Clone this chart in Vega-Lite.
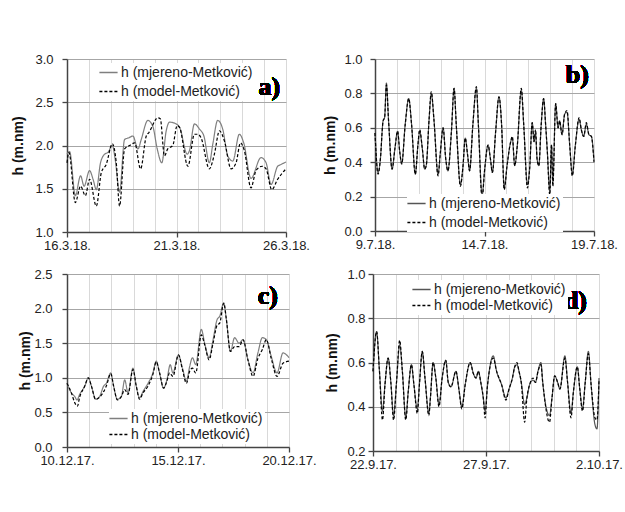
{
  "$schema": "https://vega.github.io/schema/vega-lite/v6.json",
  "padding": {"left": 11, "top": 53, "right": 0, "bottom": 0},
  "background": "white",
  "config": {
    "view": {"stroke": null},
    "font": "Liberation Sans",
    "axis": {"labelFont": "Liberation Sans", "labelFontSize": 13, "labelColor": "#222", "titleFont": "Liberation Sans", "titleFontSize": 14, "titleFontWeight": "bold", "titleColor": "#111", "domainColor": "#444", "domainWidth": 1.5, "tickColor": "#444", "tickSize": 5, "tickWidth": 1.3, "gridWidth": 1, "tickCount": 20, "labelOverlap": false},
    "axisX": {"gridColor": "#d9d9d9", "labelFlush": false, "labelPadding": 2},
    "axisY": {"gridColor": "#a6a6a6"},
    "legend": {"title": null, "fillColor": "white", "padding": 2, "symbolType": "M-1.4,0H1.4", "symbolSize": 169, "symbolStrokeWidth": 1.3, "labelFontSize": 14, "labelFont": "Liberation Sans", "labelColor": "#222", "labelOffset": 5, "labelLimit": 300}
  },
  "datasets": {
    "a": [
      {"dan":0.00,"s":"mjereno","h":1.90},{"dan":0.12,"s":"mjereno","h":1.93},{"dan":0.38,"s":"mjereno","h":1.42},{"dan":0.62,"s":"mjereno","h":1.65},{"dan":0.78,"s":"mjereno","h":1.53},{"dan":1.03,"s":"mjereno","h":1.71},{"dan":1.19,"s":"mjereno","h":1.61},{"dan":1.34,"s":"mjereno","h":1.49},{"dan":1.53,"s":"mjereno","h":1.80},{"dan":1.72,"s":"mjereno","h":1.90},{"dan":1.87,"s":"mjereno","h":1.92},{"dan":2.07,"s":"mjereno","h":2.00},{"dan":2.20,"s":"mjereno","h":1.84},{"dan":2.40,"s":"mjereno","h":1.46},{"dan":2.63,"s":"mjereno","h":2.07},{"dan":2.83,"s":"mjereno","h":2.09},{"dan":3.01,"s":"mjereno","h":2.11},{"dan":3.24,"s":"mjereno","h":1.96},{"dan":3.39,"s":"mjereno","h":2.07},{"dan":3.69,"s":"mjereno","h":2.29},{"dan":3.92,"s":"mjereno","h":2.22},{"dan":4.12,"s":"mjereno","h":1.96},{"dan":4.33,"s":"mjereno","h":1.80},{"dan":4.53,"s":"mjereno","h":2.17},{"dan":4.68,"s":"mjereno","h":2.27},{"dan":4.98,"s":"mjereno","h":2.25},{"dan":5.14,"s":"mjereno","h":2.21},{"dan":5.49,"s":"mjereno","h":1.90},{"dan":5.59,"s":"mjereno","h":1.94},{"dan":5.82,"s":"mjereno","h":2.25},{"dan":6.05,"s":"mjereno","h":2.19},{"dan":6.25,"s":"mjereno","h":2.11},{"dan":6.50,"s":"mjereno","h":1.80},{"dan":6.66,"s":"mjereno","h":2.02},{"dan":6.88,"s":"mjereno","h":2.29},{"dan":7.11,"s":"mjereno","h":2.19},{"dan":7.34,"s":"mjereno","h":1.88},{"dan":7.57,"s":"mjereno","h":1.82},{"dan":7.87,"s":"mjereno","h":2.13},{"dan":8.07,"s":"mjereno","h":2.03},{"dan":8.40,"s":"mjereno","h":1.62},{"dan":8.86,"s":"mjereno","h":1.86},{"dan":9.09,"s":"mjereno","h":1.80},{"dan":9.32,"s":"mjereno","h":1.55},{"dan":9.62,"s":"mjereno","h":1.76},{"dan":9.77,"s":"mjereno","h":1.78},{"dan":10.0,"s":"mjereno","h":1.81},
      {"dan":0.00,"s":"model","h":1.80},{"dan":0.09,"s":"model","h":1.92},{"dan":0.38,"s":"model","h":1.34},{"dan":0.62,"s":"model","h":1.53},{"dan":0.84,"s":"model","h":1.42},{"dan":1.03,"s":"model","h":1.61},{"dan":1.34,"s":"model","h":1.30},{"dan":1.57,"s":"model","h":1.69},{"dan":1.79,"s":"model","h":1.78},{"dan":2.07,"s":"model","h":2.02},{"dan":2.25,"s":"model","h":1.80},{"dan":2.40,"s":"model","h":1.30},{"dan":2.63,"s":"model","h":1.96},{"dan":2.86,"s":"model","h":2.00},{"dan":3.09,"s":"model","h":2.03},{"dan":3.36,"s":"model","h":1.73},{"dan":3.62,"s":"model","h":2.11},{"dan":3.74,"s":"model","h":2.15},{"dan":4.15,"s":"model","h":2.32},{"dan":4.26,"s":"model","h":2.31},{"dan":4.45,"s":"model","h":1.88},{"dan":4.60,"s":"model","h":1.96},{"dan":4.83,"s":"model","h":2.00},{"dan":5.03,"s":"model","h":2.23},{"dan":5.14,"s":"model","h":2.21},{"dan":5.52,"s":"model","h":1.76},{"dan":5.82,"s":"model","h":2.13},{"dan":5.97,"s":"model","h":2.13},{"dan":6.12,"s":"model","h":2.09},{"dan":6.50,"s":"model","h":1.73},{"dan":6.73,"s":"model","h":1.90},{"dan":6.96,"s":"model","h":2.17},{"dan":7.19,"s":"model","h":2.05},{"dan":7.49,"s":"model","h":1.73},{"dan":7.72,"s":"model","h":1.80},{"dan":7.92,"s":"model","h":2.03},{"dan":8.10,"s":"model","h":1.94},{"dan":8.40,"s":"model","h":1.51},{"dan":8.63,"s":"model","h":1.71},{"dan":8.91,"s":"model","h":1.76},{"dan":9.09,"s":"model","h":1.73},{"dan":9.35,"s":"model","h":1.49},{"dan":9.62,"s":"model","h":1.61},{"dan":10.0,"s":"model","h":1.73}
    ],
    "b": [
      {"dan":0.00,"s":"mjereno","h":0.57},{"dan":0.14,"s":"mjereno","h":0.34},{"dan":0.24,"s":"mjereno","h":0.41},{"dan":0.37,"s":"mjereno","h":0.64},{"dan":0.44,"s":"mjereno","h":0.66},{"dan":0.52,"s":"mjereno","h":0.86},{"dan":0.62,"s":"mjereno","h":0.64},{"dan":0.78,"s":"mjereno","h":0.36},{"dan":0.91,"s":"mjereno","h":0.48},{"dan":1.03,"s":"mjereno","h":0.58},{"dan":1.13,"s":"mjereno","h":0.46},{"dan":1.22,"s":"mjereno","h":0.39},{"dan":1.38,"s":"mjereno","h":0.62},{"dan":1.54,"s":"mjereno","h":0.77},{"dan":1.67,"s":"mjereno","h":0.62},{"dan":1.84,"s":"mjereno","h":0.33},{"dan":1.96,"s":"mjereno","h":0.50},{"dan":2.04,"s":"mjereno","h":0.58},{"dan":2.16,"s":"mjereno","h":0.48},{"dan":2.27,"s":"mjereno","h":0.36},{"dan":2.34,"s":"mjereno","h":0.38},{"dan":2.47,"s":"mjereno","h":0.65},{"dan":2.57,"s":"mjereno","h":0.80},{"dan":2.69,"s":"mjereno","h":0.65},{"dan":2.88,"s":"mjereno","h":0.33},{"dan":2.98,"s":"mjereno","h":0.45},{"dan":3.11,"s":"mjereno","h":0.60},{"dan":3.23,"s":"mjereno","h":0.42},{"dan":3.33,"s":"mjereno","h":0.35},{"dan":3.49,"s":"mjereno","h":0.58},{"dan":3.61,"s":"mjereno","h":0.83},{"dan":3.71,"s":"mjereno","h":0.62},{"dan":3.90,"s":"mjereno","h":0.27},{"dan":4.02,"s":"mjereno","h":0.38},{"dan":4.12,"s":"mjereno","h":0.54},{"dan":4.23,"s":"mjereno","h":0.44},{"dan":4.32,"s":"mjereno","h":0.35},{"dan":4.47,"s":"mjereno","h":0.62},{"dan":4.63,"s":"mjereno","h":0.83},{"dan":4.72,"s":"mjereno","h":0.62},{"dan":4.89,"s":"mjereno","h":0.21},{"dan":5.01,"s":"mjereno","h":0.36},{"dan":5.16,"s":"mjereno","h":0.50},{"dan":5.27,"s":"mjereno","h":0.42},{"dan":5.36,"s":"mjereno","h":0.34},{"dan":5.51,"s":"mjereno","h":0.58},{"dan":5.66,"s":"mjereno","h":0.78},{"dan":5.78,"s":"mjereno","h":0.62},{"dan":5.90,"s":"mjereno","h":0.25},{"dan":6.03,"s":"mjereno","h":0.38},{"dan":6.18,"s":"mjereno","h":0.51},{"dan":6.27,"s":"mjereno","h":0.54},{"dan":6.38,"s":"mjereno","h":0.38},{"dan":6.50,"s":"mjereno","h":0.50},{"dan":6.68,"s":"mjereno","h":0.82},{"dan":6.79,"s":"mjereno","h":0.62},{"dan":6.96,"s":"mjereno","h":0.27},{"dan":7.06,"s":"mjereno","h":0.36},{"dan":7.18,"s":"mjereno","h":0.63},{"dan":7.26,"s":"mjereno","h":0.52},{"dan":7.33,"s":"mjereno","h":0.57},{"dan":7.40,"s":"mjereno","h":0.42},{"dan":7.48,"s":"mjereno","h":0.38},{"dan":7.59,"s":"mjereno","h":0.62},{"dan":7.70,"s":"mjereno","h":0.77},{"dan":7.79,"s":"mjereno","h":0.62},{"dan":7.87,"s":"mjereno","h":0.46},{"dan":7.98,"s":"mjereno","h":0.23},{"dan":8.06,"s":"mjereno","h":0.50},{"dan":8.12,"s":"mjereno","h":0.28},{"dan":8.25,"s":"mjereno","h":0.74},{"dan":8.36,"s":"mjereno","h":0.60},{"dan":8.43,"s":"mjereno","h":0.64},{"dan":8.54,"s":"mjereno","h":0.56},{"dan":8.66,"s":"mjereno","h":0.68},{"dan":8.77,"s":"mjereno","h":0.69},{"dan":8.89,"s":"mjereno","h":0.50},{"dan":9.01,"s":"mjereno","h":0.33},{"dan":9.15,"s":"mjereno","h":0.50},{"dan":9.32,"s":"mjereno","h":0.65},{"dan":9.42,"s":"mjereno","h":0.59},{"dan":9.53,"s":"mjereno","h":0.55},{"dan":9.65,"s":"mjereno","h":0.62},{"dan":9.77,"s":"mjereno","h":0.56},{"dan":9.88,"s":"mjereno","h":0.55},{"dan":10.0,"s":"mjereno","h":0.41},
      {"dan":0.00,"s":"model","h":0.57},{"dan":0.14,"s":"model","h":0.33},{"dan":0.24,"s":"model","h":0.41},{"dan":0.37,"s":"model","h":0.64},{"dan":0.44,"s":"model","h":0.66},{"dan":0.52,"s":"model","h":0.85},{"dan":0.62,"s":"model","h":0.64},{"dan":0.78,"s":"model","h":0.36},{"dan":0.91,"s":"model","h":0.48},{"dan":1.03,"s":"model","h":0.58},{"dan":1.13,"s":"model","h":0.46},{"dan":1.22,"s":"model","h":0.39},{"dan":1.38,"s":"model","h":0.62},{"dan":1.54,"s":"model","h":0.77},{"dan":1.67,"s":"model","h":0.62},{"dan":1.84,"s":"model","h":0.33},{"dan":1.96,"s":"model","h":0.50},{"dan":2.04,"s":"model","h":0.59},{"dan":2.16,"s":"model","h":0.48},{"dan":2.27,"s":"model","h":0.36},{"dan":2.34,"s":"model","h":0.38},{"dan":2.47,"s":"model","h":0.65},{"dan":2.57,"s":"model","h":0.81},{"dan":2.69,"s":"model","h":0.65},{"dan":2.88,"s":"model","h":0.32},{"dan":2.98,"s":"model","h":0.45},{"dan":3.11,"s":"model","h":0.60},{"dan":3.23,"s":"model","h":0.42},{"dan":3.33,"s":"model","h":0.35},{"dan":3.49,"s":"model","h":0.58},{"dan":3.61,"s":"model","h":0.83},{"dan":3.71,"s":"model","h":0.62},{"dan":3.90,"s":"model","h":0.26},{"dan":4.02,"s":"model","h":0.38},{"dan":4.12,"s":"model","h":0.54},{"dan":4.23,"s":"model","h":0.44},{"dan":4.32,"s":"model","h":0.35},{"dan":4.47,"s":"model","h":0.62},{"dan":4.63,"s":"model","h":0.84},{"dan":4.72,"s":"model","h":0.62},{"dan":4.89,"s":"model","h":0.19},{"dan":5.01,"s":"model","h":0.36},{"dan":5.16,"s":"model","h":0.50},{"dan":5.27,"s":"model","h":0.42},{"dan":5.36,"s":"model","h":0.34},{"dan":5.51,"s":"model","h":0.58},{"dan":5.66,"s":"model","h":0.78},{"dan":5.78,"s":"model","h":0.62},{"dan":5.90,"s":"model","h":0.24},{"dan":6.03,"s":"model","h":0.38},{"dan":6.18,"s":"model","h":0.51},{"dan":6.27,"s":"model","h":0.55},{"dan":6.38,"s":"model","h":0.38},{"dan":6.50,"s":"model","h":0.50},{"dan":6.68,"s":"model","h":0.83},{"dan":6.79,"s":"model","h":0.62},{"dan":6.96,"s":"model","h":0.25},{"dan":7.06,"s":"model","h":0.36},{"dan":7.18,"s":"model","h":0.63},{"dan":7.26,"s":"model","h":0.52},{"dan":7.33,"s":"model","h":0.59},{"dan":7.40,"s":"model","h":0.42},{"dan":7.48,"s":"model","h":0.38},{"dan":7.59,"s":"model","h":0.62},{"dan":7.70,"s":"model","h":0.77},{"dan":7.79,"s":"model","h":0.62},{"dan":7.87,"s":"model","h":0.46},{"dan":7.98,"s":"model","h":0.21},{"dan":8.06,"s":"model","h":0.50},{"dan":8.12,"s":"model","h":0.26},{"dan":8.25,"s":"model","h":0.74},{"dan":8.36,"s":"model","h":0.60},{"dan":8.43,"s":"model","h":0.64},{"dan":8.54,"s":"model","h":0.56},{"dan":8.66,"s":"model","h":0.68},{"dan":8.77,"s":"model","h":0.70},{"dan":8.89,"s":"model","h":0.50},{"dan":9.01,"s":"model","h":0.32},{"dan":9.15,"s":"model","h":0.50},{"dan":9.32,"s":"model","h":0.66},{"dan":9.42,"s":"model","h":0.59},{"dan":9.53,"s":"model","h":0.55},{"dan":9.65,"s":"model","h":0.63},{"dan":9.77,"s":"model","h":0.56},{"dan":9.88,"s":"model","h":0.55},{"dan":10.0,"s":"model","h":0.40}
    ],
    "c": [
      {"dan":0.00,"s":"mjereno","h":0.92},{"dan":0.20,"s":"mjereno","h":0.78},{"dan":0.35,"s":"mjereno","h":0.73},{"dan":0.45,"s":"mjereno","h":0.68},{"dan":0.57,"s":"mjereno","h":0.76},{"dan":0.80,"s":"mjereno","h":0.88},{"dan":0.96,"s":"mjereno","h":1.00},{"dan":1.10,"s":"mjereno","h":0.88},{"dan":1.29,"s":"mjereno","h":0.69},{"dan":1.47,"s":"mjereno","h":0.73},{"dan":1.65,"s":"mjereno","h":0.88},{"dan":1.77,"s":"mjereno","h":0.92},{"dan":1.97,"s":"mjereno","h":1.07},{"dan":2.10,"s":"mjereno","h":0.88},{"dan":2.27,"s":"mjereno","h":0.69},{"dan":2.45,"s":"mjereno","h":0.73},{"dan":2.60,"s":"mjereno","h":0.97},{"dan":2.75,"s":"mjereno","h":0.78},{"dan":2.97,"s":"mjereno","h":1.14},{"dan":3.12,"s":"mjereno","h":0.88},{"dan":3.27,"s":"mjereno","h":0.71},{"dan":3.42,"s":"mjereno","h":0.80},{"dan":3.65,"s":"mjereno","h":0.92},{"dan":3.87,"s":"mjereno","h":1.07},{"dan":4.02,"s":"mjereno","h":1.24},{"dan":4.17,"s":"mjereno","h":1.07},{"dan":4.35,"s":"mjereno","h":0.85},{"dan":4.50,"s":"mjereno","h":0.97},{"dan":4.65,"s":"mjereno","h":1.19},{"dan":4.77,"s":"mjereno","h":1.07},{"dan":5.02,"s":"mjereno","h":1.33},{"dan":5.20,"s":"mjereno","h":1.14},{"dan":5.38,"s":"mjereno","h":0.95},{"dan":5.53,"s":"mjereno","h":1.17},{"dan":5.65,"s":"mjereno","h":1.29},{"dan":5.80,"s":"mjereno","h":1.19},{"dan":6.05,"s":"mjereno","h":1.70},{"dan":6.20,"s":"mjereno","h":1.50},{"dan":6.40,"s":"mjereno","h":1.29},{"dan":6.58,"s":"mjereno","h":1.55},{"dan":6.76,"s":"mjereno","h":1.84},{"dan":6.88,"s":"mjereno","h":1.89},{"dan":7.06,"s":"mjereno","h":2.08},{"dan":7.18,"s":"mjereno","h":1.84},{"dan":7.36,"s":"mjereno","h":1.38},{"dan":7.55,"s":"mjereno","h":1.58},{"dan":7.75,"s":"mjereno","h":1.50},{"dan":7.93,"s":"mjereno","h":1.55},{"dan":8.15,"s":"mjereno","h":1.26},{"dan":8.38,"s":"mjereno","h":1.07},{"dan":8.60,"s":"mjereno","h":1.36},{"dan":8.80,"s":"mjereno","h":1.58},{"dan":8.98,"s":"mjereno","h":1.55},{"dan":9.20,"s":"mjereno","h":1.31},{"dan":9.46,"s":"mjereno","h":1.07},{"dan":9.73,"s":"mjereno","h":1.36},{"dan":10.0,"s":"mjereno","h":1.29},
      {"dan":0.00,"s":"model","h":0.92},{"dan":0.20,"s":"model","h":0.78},{"dan":0.35,"s":"model","h":0.64},{"dan":0.47,"s":"model","h":0.59},{"dan":0.57,"s":"model","h":0.72},{"dan":0.80,"s":"model","h":0.88},{"dan":0.96,"s":"model","h":1.00},{"dan":1.10,"s":"model","h":0.88},{"dan":1.29,"s":"model","h":0.69},{"dan":1.47,"s":"model","h":0.72},{"dan":1.65,"s":"model","h":0.80},{"dan":1.77,"s":"model","h":0.88},{"dan":1.97,"s":"model","h":1.06},{"dan":2.10,"s":"model","h":0.88},{"dan":2.27,"s":"model","h":0.68},{"dan":2.45,"s":"model","h":0.73},{"dan":2.60,"s":"model","h":0.83},{"dan":2.75,"s":"model","h":0.76},{"dan":2.97,"s":"model","h":1.12},{"dan":3.12,"s":"model","h":0.88},{"dan":3.27,"s":"model","h":0.69},{"dan":3.42,"s":"model","h":0.78},{"dan":3.65,"s":"model","h":0.88},{"dan":3.87,"s":"model","h":1.05},{"dan":4.02,"s":"model","h":1.23},{"dan":4.17,"s":"model","h":1.07},{"dan":4.35,"s":"model","h":0.85},{"dan":4.50,"s":"model","h":0.95},{"dan":4.62,"s":"model","h":1.07},{"dan":4.77,"s":"model","h":1.02},{"dan":5.02,"s":"model","h":1.33},{"dan":5.20,"s":"model","h":1.12},{"dan":5.38,"s":"model","h":0.92},{"dan":5.53,"s":"model","h":1.10},{"dan":5.65,"s":"model","h":1.14},{"dan":5.80,"s":"model","h":1.07},{"dan":6.05,"s":"model","h":1.62},{"dan":6.20,"s":"model","h":1.48},{"dan":6.40,"s":"model","h":1.26},{"dan":6.58,"s":"model","h":1.50},{"dan":6.76,"s":"model","h":1.76},{"dan":6.88,"s":"model","h":1.79},{"dan":7.06,"s":"model","h":2.08},{"dan":7.18,"s":"model","h":1.84},{"dan":7.36,"s":"model","h":1.38},{"dan":7.55,"s":"model","h":1.45},{"dan":7.75,"s":"model","h":1.45},{"dan":7.93,"s":"model","h":1.55},{"dan":8.15,"s":"model","h":1.26},{"dan":8.38,"s":"model","h":1.02},{"dan":8.60,"s":"model","h":1.28},{"dan":8.80,"s":"model","h":1.41},{"dan":8.98,"s":"model","h":1.55},{"dan":9.20,"s":"model","h":1.28},{"dan":9.46,"s":"model","h":1.02},{"dan":9.73,"s":"model","h":1.21},{"dan":10.0,"s":"model","h":1.24}
    ],
    "d": [
      {"dan":0.00,"s":"mjereno","h":0.56},{"dan":0.16,"s":"mjereno","h":0.74},{"dan":0.28,"s":"mjereno","h":0.57},{"dan":0.42,"s":"mjereno","h":0.38},{"dan":0.53,"s":"mjereno","h":0.50},{"dan":0.67,"s":"mjereno","h":0.62},{"dan":0.79,"s":"mjereno","h":0.51},{"dan":0.91,"s":"mjereno","h":0.36},{"dan":1.04,"s":"mjereno","h":0.51},{"dan":1.18,"s":"mjereno","h":0.68},{"dan":1.30,"s":"mjereno","h":0.56},{"dan":1.45,"s":"mjereno","h":0.35},{"dan":1.56,"s":"mjereno","h":0.47},{"dan":1.70,"s":"mjereno","h":0.59},{"dan":1.81,"s":"mjereno","h":0.50},{"dan":1.96,"s":"mjereno","h":0.39},{"dan":2.06,"s":"mjereno","h":0.51},{"dan":2.18,"s":"mjereno","h":0.65},{"dan":2.30,"s":"mjereno","h":0.53},{"dan":2.47,"s":"mjereno","h":0.37},{"dan":2.54,"s":"mjereno","h":0.44},{"dan":2.66,"s":"mjereno","h":0.60},{"dan":2.78,"s":"mjereno","h":0.53},{"dan":2.92,"s":"mjereno","h":0.41},{"dan":3.06,"s":"mjereno","h":0.53},{"dan":3.22,"s":"mjereno","h":0.61},{"dan":3.33,"s":"mjereno","h":0.51},{"dan":3.45,"s":"mjereno","h":0.49},{"dan":3.67,"s":"mjereno","h":0.56},{"dan":3.80,"s":"mjereno","h":0.48},{"dan":3.93,"s":"mjereno","h":0.40},{"dan":4.08,"s":"mjereno","h":0.50},{"dan":4.30,"s":"mjereno","h":0.60},{"dan":4.44,"s":"mjereno","h":0.55},{"dan":4.56,"s":"mjereno","h":0.53},{"dan":4.66,"s":"mjereno","h":0.56},{"dan":4.77,"s":"mjereno","h":0.51},{"dan":4.88,"s":"mjereno","h":0.44},{"dan":4.96,"s":"mjereno","h":0.38},{"dan":5.06,"s":"mjereno","h":0.49},{"dan":5.32,"s":"mjereno","h":0.63},{"dan":5.47,"s":"mjereno","h":0.56},{"dan":5.69,"s":"mjereno","h":0.50},{"dan":5.88,"s":"mjereno","h":0.44},{"dan":6.02,"s":"mjereno","h":0.48},{"dan":6.17,"s":"mjereno","h":0.53},{"dan":6.27,"s":"mjereno","h":0.58},{"dan":6.37,"s":"mjereno","h":0.59},{"dan":6.46,"s":"mjereno","h":0.56},{"dan":6.56,"s":"mjereno","h":0.51},{"dan":6.71,"s":"mjereno","h":0.41},{"dan":6.81,"s":"mjereno","h":0.44},{"dan":6.93,"s":"mjereno","h":0.50},{"dan":7.08,"s":"mjereno","h":0.52},{"dan":7.19,"s":"mjereno","h":0.51},{"dan":7.30,"s":"mjereno","h":0.56},{"dan":7.43,"s":"mjereno","h":0.60},{"dan":7.51,"s":"mjereno","h":0.51},{"dan":7.81,"s":"mjereno","h":0.36},{"dan":7.92,"s":"mjereno","h":0.44},{"dan":8.04,"s":"mjereno","h":0.54},{"dan":8.17,"s":"mjereno","h":0.51},{"dan":8.27,"s":"mjereno","h":0.48},{"dan":8.49,"s":"mjereno","h":0.63},{"dan":8.61,"s":"mjereno","h":0.51},{"dan":8.76,"s":"mjereno","h":0.37},{"dan":8.87,"s":"mjereno","h":0.47},{"dan":9.04,"s":"mjereno","h":0.58},{"dan":9.15,"s":"mjereno","h":0.48},{"dan":9.27,"s":"mjereno","h":0.39},{"dan":9.39,"s":"mjereno","h":0.51},{"dan":9.53,"s":"mjereno","h":0.65},{"dan":9.65,"s":"mjereno","h":0.50},{"dan":9.82,"s":"mjereno","h":0.32},{"dan":9.91,"s":"mjereno","h":0.30},{"dan":10.0,"s":"mjereno","h":0.53},
      {"dan":0.00,"s":"model","h":0.56},{"dan":0.16,"s":"model","h":0.74},{"dan":0.28,"s":"model","h":0.57},{"dan":0.42,"s":"model","h":0.34},{"dan":0.53,"s":"model","h":0.50},{"dan":0.67,"s":"model","h":0.62},{"dan":0.79,"s":"model","h":0.51},{"dan":0.91,"s":"model","h":0.34},{"dan":1.04,"s":"model","h":0.51},{"dan":1.18,"s":"model","h":0.70},{"dan":1.30,"s":"model","h":0.56},{"dan":1.45,"s":"model","h":0.34},{"dan":1.56,"s":"model","h":0.47},{"dan":1.70,"s":"model","h":0.59},{"dan":1.81,"s":"model","h":0.50},{"dan":1.96,"s":"model","h":0.37},{"dan":2.06,"s":"model","h":0.51},{"dan":2.18,"s":"model","h":0.65},{"dan":2.30,"s":"model","h":0.53},{"dan":2.47,"s":"model","h":0.36},{"dan":2.54,"s":"model","h":0.44},{"dan":2.66,"s":"model","h":0.60},{"dan":2.78,"s":"model","h":0.53},{"dan":2.92,"s":"model","h":0.40},{"dan":3.06,"s":"model","h":0.53},{"dan":3.22,"s":"model","h":0.61},{"dan":3.33,"s":"model","h":0.51},{"dan":3.45,"s":"model","h":0.49},{"dan":3.67,"s":"model","h":0.56},{"dan":3.80,"s":"model","h":0.48},{"dan":3.93,"s":"model","h":0.39},{"dan":4.08,"s":"model","h":0.50},{"dan":4.30,"s":"model","h":0.60},{"dan":4.44,"s":"model","h":0.55},{"dan":4.56,"s":"model","h":0.53},{"dan":4.66,"s":"model","h":0.56},{"dan":4.77,"s":"model","h":0.51},{"dan":4.88,"s":"model","h":0.44},{"dan":4.96,"s":"model","h":0.35},{"dan":5.06,"s":"model","h":0.49},{"dan":5.32,"s":"model","h":0.62},{"dan":5.47,"s":"model","h":0.56},{"dan":5.69,"s":"model","h":0.50},{"dan":5.88,"s":"model","h":0.43},{"dan":6.02,"s":"model","h":0.48},{"dan":6.17,"s":"model","h":0.53},{"dan":6.27,"s":"model","h":0.58},{"dan":6.37,"s":"model","h":0.60},{"dan":6.46,"s":"model","h":0.56},{"dan":6.56,"s":"model","h":0.51},{"dan":6.71,"s":"model","h":0.33},{"dan":6.81,"s":"model","h":0.44},{"dan":6.93,"s":"model","h":0.50},{"dan":7.08,"s":"model","h":0.53},{"dan":7.19,"s":"model","h":0.51},{"dan":7.30,"s":"model","h":0.56},{"dan":7.43,"s":"model","h":0.59},{"dan":7.51,"s":"model","h":0.51},{"dan":7.81,"s":"model","h":0.33},{"dan":7.92,"s":"model","h":0.44},{"dan":8.04,"s":"model","h":0.54},{"dan":8.17,"s":"model","h":0.51},{"dan":8.27,"s":"model","h":0.48},{"dan":8.49,"s":"model","h":0.62},{"dan":8.61,"s":"model","h":0.51},{"dan":8.76,"s":"model","h":0.35},{"dan":8.87,"s":"model","h":0.47},{"dan":9.04,"s":"model","h":0.58},{"dan":9.15,"s":"model","h":0.48},{"dan":9.27,"s":"model","h":0.38},{"dan":9.39,"s":"model","h":0.51},{"dan":9.53,"s":"model","h":0.64},{"dan":9.65,"s":"model","h":0.50},{"dan":9.82,"s":"model","h":0.35},{"dan":9.91,"s":"model","h":0.34},{"dan":10.0,"s":"model","h":0.52}
    ]
  },
  "resolve": {"scale": {"x": "independent", "y": "independent", "color": "independent", "strokeDash": "independent"}, "legend": {"color": "independent", "strokeDash": "independent"}},
  "spacing": 16,
  "vconcat": [
    {
      "spacing": 13,
      "resolve": {"scale": {"x": "independent", "y": "independent", "color": "independent", "strokeDash": "independent"}, "legend": {"color": "independent", "strokeDash": "independent"}},
      "hconcat": [
        {
          "width": 219, "height": 173,
          "data": {"name": "a"},
          "layer": [
            {
              "mark": {"type": "line", "interpolate": "monotone", "strokeWidth": 1.2},
              "encoding": {
                "x": {"field": "dan", "type": "quantitative", "scale": {"domain": [0, 10], "nice": false}, "axis": {"title": null, "tickCount": 20, "labelOverlap": false, "values": [0,1,2,3,4,5,6,7,8,9,10], "labelExpr": "datum.value == 0 ? '16.3.18.' : datum.value == 5 ? '21.3.18.' : datum.value == 10 ? '26.3.18.' : ''", "tickOpacity": {"condition": {"test": "datum.value % 5 == 0", "value": 1}, "value": 0}}},
                "y": {"field": "h", "type": "quantitative", "scale": {"domain": [1, 3], "nice": false, "zero": false}, "axis": {"title": "h (m.nm)", "tickCount": 20, "labelOverlap": false, "values": [1,1.5,2,2.5,3], "format": ".1f", "labelPadding": 9, "titlePadding": 9}},
                "color": {"field": "s", "type": "nominal", "scale": {"domain": ["mjereno", "model"], "range": ["#7f7f7f", "#000000"]}, "legend": {"orient": "none", "legendX": 32, "legendY": 4, "rowPadding": 4, "labelExpr": "'h (' + datum.label + '-Metković)'"}},
                "strokeDash": {"field": "s", "type": "nominal", "scale": {"domain": ["mjereno", "model"], "range": [[1, 0], [3, 2]]}, "legend": {"orient": "none", "legendX": 32, "legendY": 4, "rowPadding": 4, "labelExpr": "'h (' + datum.label + '-Metković)'"}}
              }
            },
            {
              "mark": {"type": "text", "text": "a)", "font": "Liberation Serif", "fontWeight": "bold", "fontSize": 26, "align": "right", "baseline": "middle", "color": "#000"},
              "encoding": {"x": {"datum": 9.73}, "y": {"datum": 2.68}}
            }
          ]
        },
        {
          "width": 219, "height": 172,
          "data": {"name": "b"},
          "layer": [
            {
              "mark": {"type": "line", "interpolate": "monotone", "strokeWidth": 1.2},
              "encoding": {
                "x": {"field": "dan", "type": "quantitative", "scale": {"domain": [0, 10], "nice": false}, "axis": {"title": null, "tickCount": 20, "labelOverlap": false, "values": [0,1,2,3,4,5,6,7,8,9,10], "labelExpr": "datum.value == 0 ? '9.7.18.' : datum.value == 5 ? '14.7.18.' : datum.value == 10 ? '19.7.18.' : ''", "tickOpacity": {"condition": {"test": "datum.value % 5 == 0", "value": 1}, "value": 0}}},
                "y": {"field": "h", "type": "quantitative", "scale": {"domain": [0, 1], "nice": false, "zero": false}, "axis": {"title": "h (m.nm)", "tickCount": 20, "labelOverlap": false, "values": [0,0.2,0.4,0.6,0.8,1], "format": ".1f", "labelPadding": 8, "titlePadding": 6}},
                "color": {"field": "s", "type": "nominal", "scale": {"domain": ["mjereno", "model"], "range": ["#555555", "#000000"]}, "legend": {"orient": "none", "legendX": 32, "legendY": 135, "rowPadding": 4, "labelExpr": "'h (' + datum.label + '-Metković)'"}},
                "strokeDash": {"field": "s", "type": "nominal", "scale": {"domain": ["mjereno", "model"], "range": [[1, 0], [3, 2]]}, "legend": {"orient": "none", "legendX": 32, "legendY": 135, "rowPadding": 4, "labelExpr": "'h (' + datum.label + '-Metković)'"}}
              }
            },
            {
              "mark": {"type": "text", "text": "b)", "font": "Liberation Serif", "fontWeight": "bold", "fontSize": 26, "align": "right", "baseline": "middle", "color": "#000"},
              "encoding": {"x": {"datum": 9.77}, "y": {"datum": 0.906}}
            }
          ]
        }
      ]
    },
    {
      "spacing": 8,
      "resolve": {"scale": {"x": "independent", "y": "independent", "color": "independent", "strokeDash": "independent"}, "legend": {"color": "independent", "strokeDash": "independent"}},
      "hconcat": [
        {
          "width": 222, "height": 173,
          "data": {"name": "c"},
          "layer": [
            {
              "mark": {"type": "line", "interpolate": "monotone", "strokeWidth": 1.2},
              "encoding": {
                "x": {"field": "dan", "type": "quantitative", "scale": {"domain": [0, 10], "nice": false}, "axis": {"title": null, "tickCount": 20, "labelOverlap": false, "values": [0,1,2,3,4,5,6,7,8,9,10], "labelExpr": "datum.value == 0 ? '10.12.17.' : datum.value == 5 ? '15.12.17.' : datum.value == 10 ? '20.12.17.' : ''", "tickOpacity": {"condition": {"test": "datum.value % 5 == 0", "value": 1}, "value": 0}}},
                "y": {"field": "h", "type": "quantitative", "scale": {"domain": [0, 2.5], "nice": false, "zero": false}, "axis": {"title": "h (m.nm)", "tickCount": 20, "labelOverlap": false, "values": [0,0.5,1,1.5,2,2.5], "format": ".1f", "labelPadding": 10, "titlePadding": 1}},
                "color": {"field": "s", "type": "nominal", "scale": {"domain": ["mjereno", "model"], "range": ["#7f7f7f", "#000000"]}, "legend": {"orient": "none", "legendX": 42, "legendY": 135, "rowPadding": 1, "labelExpr": "'h (' + datum.label + '-Metković)'"}},
                "strokeDash": {"field": "s", "type": "nominal", "scale": {"domain": ["mjereno", "model"], "range": [[1, 0], [3, 2]]}, "legend": {"orient": "none", "legendX": 42, "legendY": 135, "rowPadding": 1, "labelExpr": "'h (' + datum.label + '-Metković)'"}}
              }
            },
            {
              "mark": {"type": "text", "text": "c)", "font": "Liberation Serif", "fontWeight": "bold", "fontSize": 26, "align": "right", "baseline": "middle", "color": "#000"},
              "encoding": {"x": {"datum": 9.5}, "y": {"datum": 2.18}}
            }
          ]
        },
        {
          "width": 226, "height": 177,
          "data": {"name": "d"},
          "layer": [
            {
              "mark": {"type": "line", "interpolate": "monotone", "strokeWidth": 1.2},
              "encoding": {
                "x": {"field": "dan", "type": "quantitative", "scale": {"domain": [0, 10], "nice": false}, "axis": {"title": null, "tickCount": 20, "labelOverlap": false, "values": [0,1,2,3,4,5,6,7,8,9,10], "labelExpr": "datum.value == 0 ? '22.9.17.' : datum.value == 5 ? '27.9.17.' : datum.value == 10 ? '2.10.17.' : ''", "tickOpacity": {"condition": {"test": "datum.value % 5 == 0", "value": 1}, "value": 0}}},
                "y": {"field": "h", "type": "quantitative", "scale": {"domain": [0.2, 1], "nice": false, "zero": false}, "axis": {"title": "h (m.nm)", "tickCount": 20, "labelOverlap": false, "values": [0.2,0.4,0.6,0.8,1], "format": ".1f", "labelPadding": 3, "titlePadding": 7}},
                "color": {"field": "s", "type": "nominal", "scale": {"domain": ["mjereno", "model"], "range": ["#555555", "#000000"]}, "legend": {"orient": "none", "legendX": 39, "legendY": 6, "rowPadding": 1, "labelExpr": "'h (' + datum.label + '-Metković)'"}},
                "strokeDash": {"field": "s", "type": "nominal", "scale": {"domain": ["mjereno", "model"], "range": [[1, 0], [3, 2]]}, "legend": {"orient": "none", "legendX": 39, "legendY": 6, "rowPadding": 1, "labelExpr": "'h (' + datum.label + '-Metković)'"}}
              }
            },
            {
              "mark": {"type": "text", "text": "d)", "font": "Liberation Serif", "fontWeight": "bold", "fontSize": 26, "align": "right", "baseline": "middle", "color": "#000"},
              "encoding": {"x": {"datum": 9.47}, "y": {"datum": 0.878}}
            }
          ]
        }
      ]
    }
  ]
}
